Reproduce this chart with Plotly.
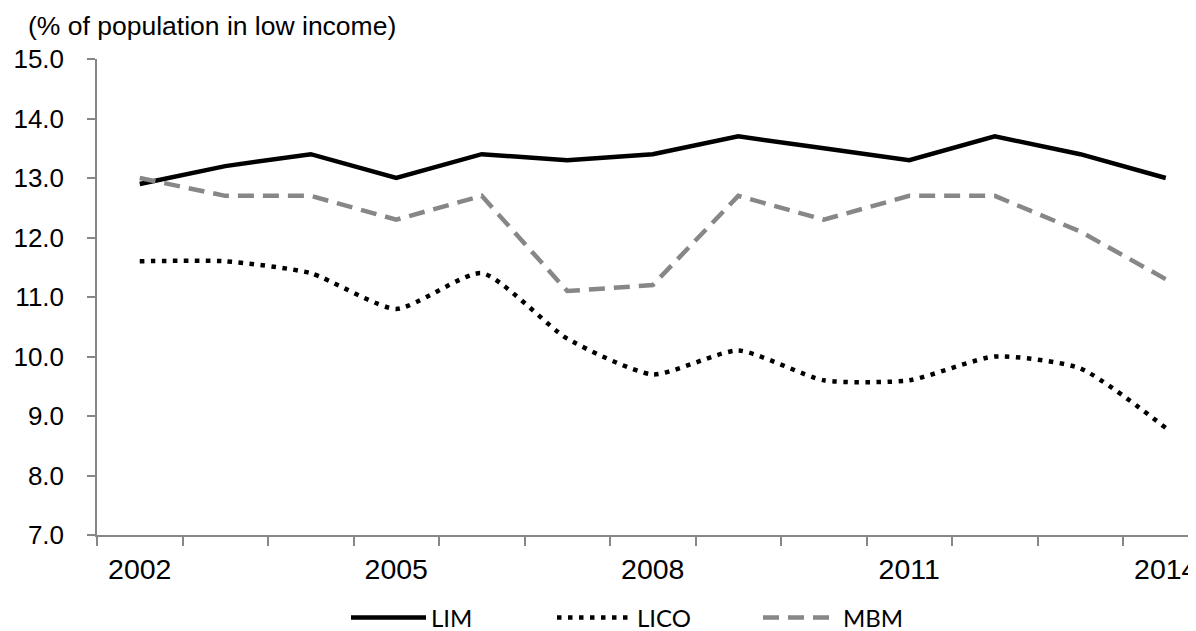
import plotly.graph_objects as go

years = list(range(2002, 2015))
lim = [12.9, 13.2, 13.4, 13.0, 13.4, 13.3, 13.4, 13.7, 13.5, 13.3, 13.7, 13.4, 13.0]
lico = [11.6, 11.6, 11.4, 10.8, 11.4, 10.3, 9.7, 10.1, 9.6, 9.6, 10.0, 9.8, 8.8]
mbm = [13.0, 12.7, 12.7, 12.3, 12.7, 11.1, 11.2, 12.7, 12.3, 12.7, 12.7, 12.1, 11.3]
xtick_vals = [2002, 2005, 2008, 2011, 2014]
ytick_vals = [7, 8, 9, 10, 11, 12, 13, 14, 15]

# page has an 8px body margin; size figure so it fills the 1196x631 window
W, H = 1188, 623
ml, mr, mt, mb = 89, 0, 51, 96
px_per_year = 85.5
plot_w = W - ml - mr
plot_h = H - mt - mb
x0 = 2001.5
x1 = x0 + plot_w / px_per_year

fig = go.Figure()
fig.add_trace(go.Scatter(x=years, y=lim, name="LIM", mode="lines",
                         line=dict(color="#000000", width=4.5)))
fig.add_trace(go.Scatter(x=years, y=lico, name="LICO", mode="lines",
                         line=dict(color="#000000", width=4.5, dash="4.5px,6.5px",
                                   shape="spline", smoothing=0.6)))
fig.add_trace(go.Scatter(x=years, y=mbm, name="MBM", mode="lines",
                         line=dict(color="#878787", width=4.5, dash="16px,9px")))

axis_col = "#878787"
legend_y = -(610 - (mt + plot_h)) / plot_h
fig.update_layout(
    width=W, height=H,
    margin=dict(l=ml, r=mr, t=mt, b=mb, autoexpand=False),
    paper_bgcolor="white", plot_bgcolor="white",
    font=dict(family="Liberation Sans, Arial", color="#000000", size=26),
    title=dict(text="(% of population in low income)", x=20 / W, xanchor="left",
               xref="container", y=1 - 18 / H, yanchor="middle", yref="container",
               font=dict(family="Liberation Sans, Arial", size=26.5, color="#000000")),
    showlegend=True,
    legend=dict(orientation="h", x=338 / W, xanchor="left", xref="container",
                y=legend_y, yanchor="middle", font=dict(family="Lato", size=24),
                itemwidth=75, entrywidth=116, entrywidthmode="pixels",
                traceorder="normal", bgcolor="rgba(0,0,0,0)"),
    xaxis=dict(range=[x0, x1], tickmode="array", tickvals=xtick_vals,
               ticktext=[str(v) for v in xtick_vals], ticks="",
               showgrid=False, zeroline=False, showline=True, linecolor=axis_col,
               linewidth=1.5, automargin=False, ticklabelstandoff=8,
               ticklabeloverflow="allow",
               tickfont=dict(size=28.5),
               minor=dict(tick0=2001.5, dtick=1, ticks="outside", ticklen=9,
                          tickcolor=axis_col, tickwidth=1.5, showgrid=False)),
    yaxis=dict(range=[7, 15], tickmode="array", tickvals=ytick_vals,
               ticktext=[f"{v:.1f}" for v in ytick_vals], ticks="outside",
               ticklen=8, tickcolor=axis_col, tickwidth=1.5,
               showgrid=False, zeroline=False, showline=True, linecolor=axis_col,
               linewidth=1.5, automargin=False, ticklabelstandoff=18,
               tickfont=dict(size=26)),
)
fig.write_html("out.html")
